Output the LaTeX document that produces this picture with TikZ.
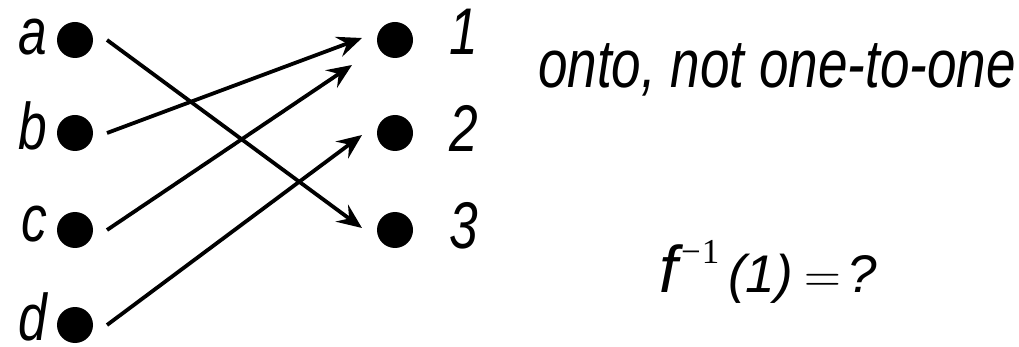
\documentclass[tikz,border=0pt]{standalone}
\usepackage{fontspec}
\setmainfont{Liberation Sans}
\newfontfamily\narrowsans[FakeStretch=0.78]{Liberation Sans}
\newfontfamily\serifup{Liberation Serif}
\newfontfamily\lmroman{Latin Modern Roman}
\usetikzlibrary{arrows.meta}

\tikzset{
  dot/.style={circle, fill=black, minimum size=36pt, inner sep=0pt},
  lbl/.style={inner sep=0pt, font=\narrowsans\itshape\fontsize{66}{66}\selectfont},
  caption/.style={inner sep=0pt, font=\narrowsans\itshape\fontsize{68}{68}\selectfont},
  formula/.style={inner sep=0pt, anchor=base west, font=\itshape\fontsize{53}{53}\selectfont},
  maps/.style={line width=3.8pt, -{Stealth[length=25pt, width=21pt, inset=9pt]}}
}

\begin{document}
\begin{tikzpicture}[x=1pt, y=-1pt]
  \useasboundingbox (0,0) rectangle (1019,347);

  % domain
  \node[dot] (a) at (75,40) {};
  \node[dot] (b) at (75,133) {};
  \node[dot] (c) at (75,230) {};
  \node[dot] (d) at (75,325) {};
  \node[lbl, anchor=base east] (la) at (47,55) {a};
  \node[lbl, anchor=base east] (lb) at (47,150) {b};
  \node[lbl, anchor=base east] (lc) at (47,242) {c};
  \node[lbl, anchor=base east] (ld) at (47,340) {d};

  % codomain
  \node[dot] (n1) at (395,40) {};
  \node[dot] (n2) at (395,133) {};
  \node[dot] (n3) at (395,230) {};
  \node[lbl, anchor=base west] (l1) at (449,55) {1};
  \node[lbl, anchor=base west] (l2) at (449,152) {2};
  \node[lbl, anchor=base west] (l3) at (449,248) {3};

  % the mapping
  \coordinate (c1) at (352,65);
  \draw[maps] ([xshift=32pt]a.center) -- ([xshift=-33pt,yshift=2pt]n3.center);
  \draw[maps] ([xshift=32pt]b.center) -- ([xshift=-33pt,yshift=2pt]n1.center);
  \draw[maps] ([xshift=32pt]c.center) -- (c1);
  \draw[maps] ([xshift=32pt]d.center) -- ([xshift=-33pt,yshift=-2pt]n2.center);

  % remarks
  \node[caption, anchor=base west] (onto) at (538,88) {onto, not one-to-one};

  \node[formula, font=\itshape\fontsize{66}{66}\selectfont] (f) at (659,292) {f};
  \node[formula, font=\serifup\fontsize{35}{35}\selectfont] (inv) at (681,263) {−\kern1pt1};
  \node[formula] (arg) at (728,292) {(1)};
  \node[formula, font=\lmroman\fontsize{51}{51}\selectfont] (eq) at (804,292) {=};
  \node[formula] (q) at (847,292) {?};
\end{tikzpicture}
\end{document}
